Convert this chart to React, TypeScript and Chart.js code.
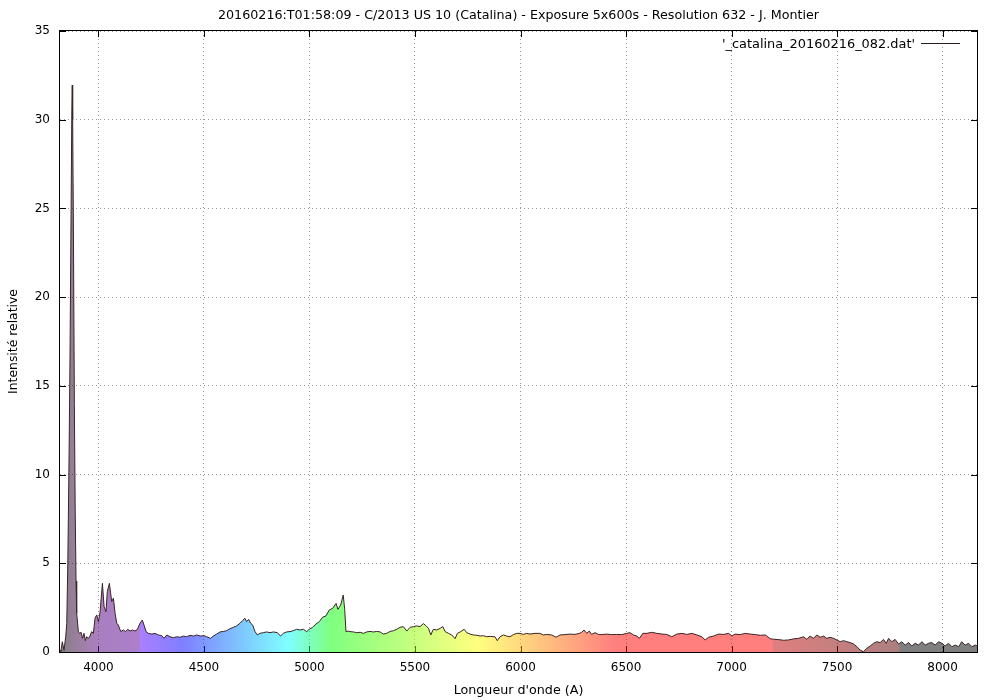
import React, { useEffect, useRef } from "react";
import { Chart, registerables } from "chart.js";

Chart.register(...registerables);

// Wavelength (Angstrom) samples
const wavelengths = [
  3818, 3822, 3829, 3837, 3845, 3850, 3855, 3860, 3865, 3870,
  3874, 3876, 3878, 3882, 3886, 3890, 3894, 3897,
  3905, 3910, 3918, 3925, 3932, 3938, 3944, 3952, 3960, 3968,
  3976, 3984, 3992, 4000, 4008, 4019, 4027, 4036, 4042, 4052,
  4063, 4071, 4079, 4087, 4094, 4106, 4118, 4129, 4139, 4150,
  4162, 4173, 4185, 4197, 4208, 4216, 4226, 4237, 4253, 4268,
  4284, 4300, 4311, 4324, 4339, 4355, 4371, 4387, 4403, 4418,
  4434, 4450, 4466, 4482, 4501, 4513, 4532, 4544, 4560, 4576,
  4592, 4607, 4623, 4639, 4655, 4671, 4683, 4694, 4702, 4712,
  4721, 4731, 4742, 4753, 4765, 4781, 4797, 4813, 4829, 4848,
  4863, 4876, 4892, 4908, 4923, 4939, 4955, 4971, 4987, 4999,
  5015, 5031, 5047, 5062, 5078, 5094, 5110, 5126, 5135, 5148,
  5160, 5167, 5173, 5184, 5192, 5208, 5224, 5240, 5256, 5271,
  5287, 5303, 5319, 5335, 5350, 5366, 5382, 5398, 5414, 5429,
  5445, 5461, 5477, 5493, 5508, 5524, 5540, 5553, 5564, 5575,
  5587, 5603, 5619, 5632, 5643, 5659, 5674, 5690, 5701, 5717,
  5733, 5745, 5761, 5777, 5793, 5809, 5824, 5840, 5856, 5879,
  5890, 5903, 5919, 5934, 5950, 5966, 5982, 5998, 6013, 6029,
  6045, 6069, 6092, 6108, 6124, 6148, 6168, 6187, 6211, 6235,
  6258, 6279, 6290, 6301, 6314, 6326, 6337, 6353, 6369, 6385,
  6408, 6432, 6456, 6480, 6503, 6519, 6535, 6551, 6563, 6580,
  6599, 6622, 6646, 6670, 6693, 6717, 6741, 6765, 6788, 6812,
  6836, 6859, 6875, 6891, 6915, 6938, 6962, 6986, 7002, 7017,
  7041, 7065, 7088, 7112, 7136, 7160, 7183, 7199, 7223, 7246,
  7270, 7294, 7318, 7341, 7357, 7372, 7388, 7404, 7420, 7436,
  7451, 7467, 7483, 7499, 7515, 7530, 7546, 7562, 7578, 7594,
  7609, 7625, 7641, 7657, 7673, 7688, 7704, 7720, 7733, 7744,
  7760, 7775, 7791, 7807, 7823, 7839, 7854, 7870, 7886, 7902,
  7918, 7933, 7949, 7965, 7981, 7997, 8012, 8028, 8044, 8060,
  8076, 8091, 8107, 8123, 8139, 8155, 8163,
];

// Relative intensity at each wavelength
const intensities = [
  0.10, 0.03, 0.58, 0.10, 0.86, 1.6, 5.0, 10.0, 16.0, 24.0,
  30.5, 31.95, 30.0, 23.0, 14.0, 8.0, 4.0, 2.18,
  1.15, 1.05, 1.11, 0.77, 1.05, 0.64, 0.86, 0.77, 0.90, 1.15,
  1.05, 1.90, 2.09, 1.71, 2.27, 3.87, 2.55, 2.27, 3.40, 3.87,
  2.84, 3.03, 2.18, 1.62, 1.52, 1.15, 1.24, 1.15, 1.28, 1.18,
  1.24, 1.18, 1.28, 1.62, 1.80, 1.52, 1.15, 1.05, 1.01, 1.05,
  0.96, 0.92, 0.77, 0.96, 0.86, 0.81, 0.86, 0.83, 0.90, 0.86,
  0.94, 0.90, 0.96, 0.90, 0.92, 0.86, 0.77, 0.90, 1.01, 1.13,
  1.16, 1.20, 1.31, 1.39, 1.47, 1.62, 1.77, 1.90, 1.71, 1.84,
  1.62, 1.52, 1.15, 0.96, 1.05, 1.09, 1.13, 1.09, 1.13, 1.09,
  0.90, 1.05, 1.13, 1.15, 1.20, 1.28, 1.24, 1.28, 1.15, 1.28,
  1.39, 1.58, 1.71, 1.96, 2.03, 2.37, 2.46, 2.74, 2.40, 2.65,
  3.21, 2.40, 1.15, 1.18, 1.15, 1.13, 1.09, 1.11, 1.05, 1.13,
  1.16, 1.13, 1.16, 1.13, 1.01, 1.05, 1.16, 1.20, 1.28, 1.39,
  1.43, 1.18, 1.39, 1.43, 1.47, 1.43, 1.60, 1.47, 1.33, 0.96,
  1.28, 1.24, 1.33, 1.43, 1.15, 1.05, 0.96, 0.75, 1.05, 1.15,
  1.28, 1.09, 1.01, 0.96, 0.94, 0.90, 0.92, 0.86, 0.88, 0.86,
  0.64, 0.86, 0.96, 0.90, 0.86, 0.98, 1.05, 1.05, 0.99, 1.05,
  1.01, 1.05, 1.05, 0.96, 0.99, 0.96, 0.83, 0.96, 0.98, 1.01,
  0.99, 1.05, 1.11, 1.24, 1.05, 1.18, 0.99, 1.09, 0.99, 0.98,
  1.01, 0.98, 0.99, 0.98, 1.05, 1.09, 0.96, 0.90, 0.77, 1.05,
  1.05, 1.11, 1.05, 1.01, 0.99, 0.86, 1.01, 1.05, 0.99, 1.05,
  0.96, 0.86, 0.68, 0.83, 0.90, 1.01, 0.99, 1.05, 0.90, 1.01,
  0.98, 1.05, 1.01, 0.98, 0.94, 0.96, 0.75, 0.72, 0.70, 0.66,
  0.68, 0.74, 0.77, 0.86, 0.71, 0.90, 0.77, 0.96, 0.83, 0.90,
  0.77, 0.83, 0.77, 0.68, 0.58, 0.64, 0.58, 0.53, 0.45, 0.30,
  0.11, 0.02, 0.21, 0.34, 0.49, 0.58, 0.53, 0.71, 0.49, 0.77,
  0.58, 0.71, 0.45, 0.58, 0.39, 0.53, 0.34, 0.49, 0.39, 0.58,
  0.39, 0.49, 0.53, 0.39, 0.58, 0.49, 0.34, 0.49, 0.30, 0.39,
  0.30, 0.58, 0.39, 0.49, 0.30, 0.39, 0.35,
];

const xTicks = [4000, 4500, 5000, 5500, 6000, 6500, 7000, 7500, 8000];
const yTicks = [0, 5, 10, 15, 20, 25, 30, 35];

const titleText =
  "20160216:T01:58:09 - C/2013 US 10 (Catalina) - Exposure 5x600s - Resolution 632 - J. Montier";
const xTitle = "Longueur d'onde (A)";
const yTitle = "Intensité relative";
const legendLabel = "'_catalina_20160216_082.dat'";

// Spectrum colour stops (wavelength -> colour), drawn half transparent over white
const spectrumStops: [number, string][] = [
  [3818, "rgba(8,0,9,0.5)"],
  [3900, "rgba(53,0,64,0.5)"],
  [4000, "rgba(85,0,128,0.5)"],
  [4190, "rgba(88,0,150,0.5)"],
  [4200, "rgba(85,0,255,0.5)"],
  [4400, "rgba(0,0,255,0.5)"],
  [4900, "rgba(0,255,255,0.5)"],
  [5100, "rgba(0,255,0,0.5)"],
  [5800, "rgba(255,255,0,0.5)"],
  [6450, "rgba(255,0,0,0.5)"],
  [7190, "rgba(255,0,0,0.5)"],
  [7200, "rgba(190,0,0,0.5)"],
  [7790, "rgba(90,0,0,0.5)"],
  [7800, "rgba(0,0,0,0.5)"],
  [8163, "rgba(0,0,0,0.5)"],
];

const fnt = (size: number) => `${size}px "DejaVu Sans"`;

const fillGradient = (ctx: any) => {
  const chart = ctx.chart;
  const area = chart.chartArea;
  const xs = chart.scales && chart.scales.x;
  if (!area || !xs) return "rgba(128,128,128,0.5)";
  const g = chart.ctx.createLinearGradient(area.left, 0, area.right, 0);
  const w = area.right - area.left;
  for (const [lam, col] of spectrumStops) {
    const p = (xs.getPixelForValue(lam) - area.left) / w;
    g.addColorStop(Math.min(1, Math.max(0, p)), col);
  }
  return g;
};

const decorPlugin = {
  id: "gnuplotDecor",
  beforeDatasetsDraw(chart: any) {
    const { ctx, chartArea: a, scales } = chart;
    const tl = 6;
    ctx.save();
    ctx.strokeStyle = "#000";
    ctx.lineWidth = 1;
    ctx.beginPath();
    for (const v of xTicks) {
      const px = Math.round(scales.x.getPixelForValue(v)) + 0.5;
      ctx.moveTo(px, a.bottom);
      ctx.lineTo(px, a.bottom - tl);
      ctx.moveTo(px, a.top);
      ctx.lineTo(px, a.top + tl);
    }
    for (const v of yTicks) {
      const py = Math.round(scales.y.getPixelForValue(v)) + 0.5;
      ctx.moveTo(a.left, py);
      ctx.lineTo(a.left + tl, py);
      ctx.moveTo(a.right, py);
      ctx.lineTo(a.right - tl, py);
    }
    ctx.stroke();
    ctx.restore();
  },
  afterDatasetsDraw(chart: any) {
    const { ctx, chartArea: a } = chart;
    ctx.save();
    ctx.strokeStyle = "#000";
    ctx.lineWidth = 1;
    ctx.strokeRect(
      Math.round(a.left) - 0.5,
      Math.round(a.top) - 0.5,
      Math.round(a.right - a.left) + 1,
      Math.round(a.bottom - a.top) + 1
    );
    ctx.restore();
  },
  afterDraw(chart: any) {
    const { ctx, chartArea: a } = chart;
    const cx = (a.left + a.right) / 2;
    const cy = (a.top + a.bottom) / 2;
    ctx.save();
    ctx.fillStyle = "#000";
    ctx.textBaseline = "alphabetic";
    ctx.textAlign = "center";
    ctx.font = fnt(12.7);
    ctx.fillText(titleText, cx, 19);
    ctx.fillText(xTitle, cx, 694);
    ctx.save();
    ctx.translate(17, cy);
    ctx.rotate(-Math.PI / 2);
    ctx.font = fnt(12.4);
    ctx.fillText(yTitle, 0, 0);
    ctx.restore();
    ctx.textAlign = "right";
    ctx.font = fnt(12.9);
    ctx.fillText(legendLabel, 915, 48);
    ctx.strokeStyle = "#2a1c1c";
    ctx.lineWidth = 1;
    ctx.beginPath();
    ctx.moveTo(921, 43.5);
    ctx.lineTo(960, 43.5);
    ctx.stroke();
    ctx.restore();
  },
};

export default function App() {
  const canvasRef = useRef<HTMLCanvasElement | null>(null);

  useEffect(() => {
    if (!canvasRef.current) return;
    const points = wavelengths.map((w, i) => ({ x: w, y: intensities[i] }));
    const tickFont = { family: "DejaVu Sans", size: 12 };
    const chart = new Chart(canvasRef.current, {
      type: "line",
      data: {
        datasets: [
          {
            label: legendLabel,
            data: points,
            borderColor: "#3a2424",
            borderWidth: 1,
            pointRadius: 0,
            tension: 0,
            fill: "origin",
            backgroundColor: fillGradient,
          },
        ],
      },
      options: {
        animation: false,
        responsive: false,
        events: [],
        layout: { padding: { top: 31, right: 23, left: 0, bottom: 0 } },
        plugins: {
          legend: { display: false },
          title: { display: false },
          tooltip: { enabled: false },
        },
        scales: {
          x: {
            type: "linear",
            min: 3818,
            max: 8163,
            afterBuildTicks: (s: any) => {
              s.ticks = xTicks.map((v) => ({ value: v }));
            },
            afterFit: (s: any) => {
              s.height = 48;
            },
            grid: { color: "#9a9a9a", lineWidth: 1, drawTicks: false },
            border: { display: false, dash: [1, 3] },
            ticks: {
              padding: 9,
              maxRotation: 0,
              autoSkip: false,
              color: "#000",
              font: tickFont,
              callback: (v: any) => String(v),
            },
          },
          y: {
            type: "linear",
            min: 0,
            max: 35,
            afterBuildTicks: (s: any) => {
              s.ticks = yTicks.map((v) => ({ value: v }));
            },
            afterFit: (s: any) => {
              s.width = 60;
            },
            grid: { color: "#9a9a9a", lineWidth: 1, drawTicks: false },
            border: { display: false, dash: [1, 3] },
            ticks: {
              padding: 10,
              color: "#000",
              font: tickFont,
              callback: (v: any) => String(v),
            },
          },
        },
      },
      plugins: [decorPlugin],
    });
    return () => chart.destroy();
  }, []);

  return (
    <div style={{ position: "absolute", left: 0, top: 0, width: 1000, height: 700, background: "#fff" }}>
      <canvas ref={canvasRef} width={1000} height={700} style={{ display: "block" }} />
    </div>
  );
}
